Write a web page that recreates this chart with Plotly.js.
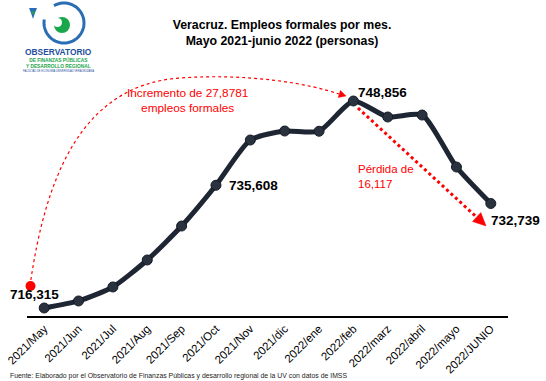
<!DOCTYPE html>
<html>
<head>
<meta charset="utf-8">
<script src="https://cdn.plot.ly/plotly-3.0.1.min.js"></script>
<style>html,body{margin:0;padding:0;background:#fff;}#chart{width:546px;height:381px;}</style>
</head>
<body>
<div id="chart"></div>
<script>
// ---- data ----
const meses = ['2021/May','2021/Jun','2021/Jul','2021/Aug','2021/Sep','2021/Oct','2021/Nov','2021/dic','2022/ene','2022/feb','2022/marz','2022/abril','2022/mayo','2022/JUNIO'];
const empleos = [716315, 717420, 719620, 723860, 729200, 735608, 742720, 744140, 744100, 748856, 746340, 746650, 738480, 732739];
const etiquetados = [0, 5, 9, 13];
const tituloTexto = 'Veracruz. Empleos formales por mes.<br>Mayo 2021-junio 2022 (personas)';
const textoIncremento = 'Incremento de 27,8781<br>empleos formales';
const textoPerdida = 'Pérdida de<br>16,117';
const fuente = 'Fuente: Elaborado por el Observatorio de Finanzas Públicas y desarrollo regional de la UV con datos de IMSS';

// ---- layout geometry ----
const W = 546, H = 381;
const M = {l: 27, r: 38, t: 40, b: 65};
const pw = W - M.l - M.r, ph = H - M.t - M.b;
const xp = px => (px - M.l) / pw;
const yp = py => (H - M.b - py) / ph;
const P = (px, py) => xp(px).toFixed(4) + ',' + yp(py).toFixed(4);

const dark = '#1f2633';
const red = '#ff0000';
const FONT = 'Liberation Sans, Arial, sans-serif';

const trace = {
  x: meses, y: empleos, type: 'scatter', mode: 'lines+markers',
  line: {color: dark, width: 5, shape: 'spline', smoothing: 0.6},
  marker: {color: '#2a3240', size: 10, line: {color: '#151b24', width: 1}},
  hoverinfo: 'skip', showlegend: false
};

const shifts = {0: [-10, 14], 5: [38, 0], 9: [29, 9], 13: [25, -17]};
const annotations = etiquetados.map(i => ({
  x: meses[i], y: empleos[i], xref: 'x', yref: 'y',
  text: empleos[i].toLocaleString('en-US'), showarrow: false,
  xanchor: 'center', yanchor: 'middle',
  xshift: shifts[i][0], yshift: shifts[i][1],
  font: {family: FONT, size: 13.5, color: '#000', weight: 'bold'}
}));

function note(px, py, text, size, color, opts) {
  return Object.assign({
    xref: 'paper', yref: 'paper', x: xp(px), y: yp(py), text: text,
    showarrow: false, xanchor: 'center', yanchor: 'middle', align: 'center',
    font: {family: FONT, size: size, color: color}
  }, opts || {});
}

annotations.push(note(187, 100, textoIncremento, 11.8, red));
annotations.push(note(356, 176, textoPerdida, 11.5, red, {xanchor: 'left', align: 'left'}));
annotations.push(note(8, 376, fuente, 6.9, '#222', {xanchor: 'left', align: 'left'}));
// logo texts
annotations.push(note(58, 52.5, 'OBSERVATORIO', 8.4, '#1f4e9c', {font: {family: FONT, size: 8.4, color: '#1f4e9c', weight: 'bold'}}));
annotations.push(note(58, 62.5, 'DE FINANZAS PÚBLICAS<br>Y DESARROLLO REGIONAL', 4.8, '#1aa64a', {font: {family: FONT, size: 4.8, color: '#1aa64a', weight: 'bold'}}));
annotations.push(note(58, 70.5, 'FACULTAD DE ECONOMÍA UNIVERSIDAD VERACRUZANA', 2.6, '#1f4e9c'));

// shapes: dotted arrows
const shapes = [];
// curved increment arrow
shapes.push({
  type: 'path', xref: 'paper', yref: 'paper',
  path: 'M' + P(30, 286) + ' C' + P(45, 180) + ' ' + P(80, 85) + ' ' + P(180, 78) +
        ' C' + P(250, 73) + ' ' + P(310, 84) + ' ' + P(339, 94),
  line: {color: red, width: 1.2, dash: 'dot'}
});
shapes.push({
  type: 'path', xref: 'paper', yref: 'paper',
  path: 'M' + P(346, 96) + ' L' + P(338.2, 97.4) + ' L' + P(340.4, 90.4) + ' Z',
  fillcolor: red, line: {color: red, width: 0.5}
});
// red dot
shapes.push({
  type: 'circle', xref: 'paper', yref: 'paper',
  x0: xp(25.5), x1: xp(35.5), y0: yp(281), y1: yp(291),
  fillcolor: red, line: {color: red, width: 0}
});
// straight loss arrow
shapes.push({
  type: 'line', xref: 'paper', yref: 'paper',
  x0: xp(358), y0: yp(108), x1: xp(477), y1: yp(217.5),
  line: {color: red, width: 3, dash: 'dot'}
});
shapes.push({
  type: 'path', xref: 'paper', yref: 'paper',
  path: 'M' + P(486, 226) + ' L' + P(472.5, 221.5) + ' L' + P(480.8, 212.6) + ' Z',
  fillcolor: red, line: {color: red, width: 0.5}
});
// logo: ring arc
(function(){
  const cx = 64, cy = 23, r = 20;
  let d = '';
  for (let a = -190; a <= 120; a += 5) {
    const rad = a * Math.PI / 180;
    const px = cx + r * Math.cos(rad), py = cy - r * Math.sin(rad);
    d += (d ? ' L' : 'M') + P(px, py);
  }
  shapes.push({type: 'path', xref: 'paper', yref: 'paper', path: d, line: {color: '#2a6db5', width: 3}});
  shapes.push({type: 'circle', xref: 'paper', yref: 'paper', x0: xp(54), x1: xp(70), y0: yp(33), y1: yp(17),
    fillcolor: '#1aa64a', line: {width: 0}});
  shapes.push({type: 'circle', xref: 'paper', yref: 'paper', x0: xp(53), x1: xp(62), y0: yp(27), y1: yp(18),
    fillcolor: '#ffffff', line: {width: 0}});
  // small crest
  shapes.push({type: 'path', xref: 'paper', yref: 'paper',
    path: 'M' + P(29, 8) + ' L' + P(37, 8) + ' L' + P(35, 13) + ' L' + P(33, 19) + ' L' + P(31, 13) + ' Z',
    fillcolor: '#2a6db5', line: {width: 0}});
  shapes.push({type: 'circle', xref: 'paper', yref: 'paper', x0: xp(31.5), x1: xp(34.5), y0: yp(14), y1: yp(11),
    fillcolor: '#1aa64a', line: {width: 0}});
})();

const layout = {
  width: W, height: H,
  margin: M,
  paper_bgcolor: '#fff', plot_bgcolor: '#fff',
  title: {
    text: tituloTexto, xref: 'container', yref: 'container', x: 282 / W, y: 1 - 29 / H,
    xanchor: 'center', yanchor: 'middle',
    font: {family: FONT, size: 12.3, color: '#000', weight: 'bold'}
  },
  xaxis: {
    type: 'category', range: [-0.5, 13.5], showgrid: false, zeroline: false,
    showline: true, linecolor: '#000', linewidth: 1.5, ticks: '',
    tickangle: -45, tickfont: {family: FONT, size: 11.5, color: '#000'},
    fixedrange: true
  },
  yaxis: {
    range: [715057, 758445], visible: false, showgrid: false, zeroline: false, fixedrange: true
  },
  annotations: annotations,
  shapes: shapes,
  showlegend: false
};

Plotly.newPlot('chart', [trace], layout, {displayModeBar: false, staticPlot: true});
</script>
</body>
</html>
